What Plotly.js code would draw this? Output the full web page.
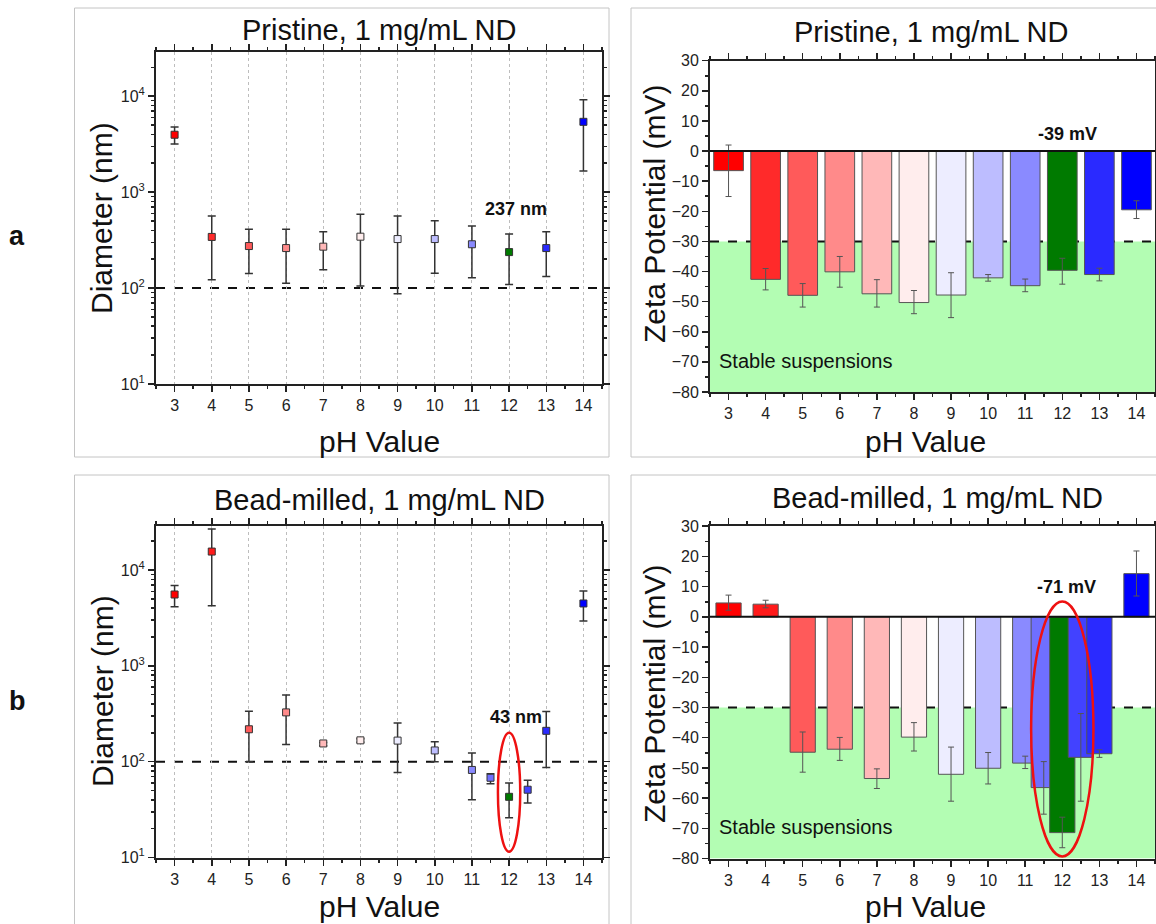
<!DOCTYPE html>
<html><head><meta charset="utf-8">
<script src="https://cdn.plot.ly/plotly-3.0.1.min.js"></script>
<style>html,body{margin:0;padding:0;background:#fff}#chart{width:1156px;height:924px}</style>
</head><body><div id="chart"></div>
<script>
// ---- data ----
const phA = [3,4,5,6,7,8,9,10,11,12,13,14];
const colorsA = ['#ff0000','#ff2a2a','#ff5a5a','#ff8a8a','#ffb8b8','#ffeded','#ededff','#bdbdff','#8a8aff','#007a00','#2a2aff','#0000ff'];
const diamA    = [3960,341,274,261,270,343,324,324,286,237,261,5400];
const diamA_hi = [4760,563,410,410,387,588,563,504,443,366,387,9160];
const diamA_lo = [3165,122,142,112,155,105,87,143,128,109,132,1663];
const zetaA    = [-6.5,-42.6,-47.9,-40.1,-47.4,-50.3,-47.8,-42.1,-44.7,-39.6,-41.0,-19.5];
const zetaA_hi = [2.0,-39.0,-44.0,-35.0,-42.7,-46.3,-40.4,-41.0,-42.5,-35.6,-38.9,-16.5];
const zetaA_lo = [-15.1,-46.1,-51.8,-45.2,-51.8,-54.0,-55.3,-43.2,-46.7,-44.2,-43.1,-22.4];

const phB = [3,4,5,6,7,8,9,10,11,11.5,12,12.5,13,14];
const colorsB = ['#ff0000','#ff1a1a','#ff5a5a','#ff8a8a','#ffb8b8','#ffeded','#ededff','#bdbdff','#8a8aff','#6f6fff','#007a00','#4242ff','#2a2aff','#0000ff'];
const diamB    = [5560,15600,218,327,155,167,166,131,82,68,43,51,210,4480];
const diamB_hi = [6920,26900,337,497,159,174,254,161,123,75,60,64,335,6030];
const diamB_lo = [4130,4230,100,151,147,160,77,100,40,59,26,37,87,2944];
const zetaB    = [4.6,4.2,-44.8,-43.8,-53.5,-39.8,-52.1,-50.1,-48.4,-56.5,-71.4,-46.5,-45.3,14.3];
const zetaB_hi = [7.2,5.5,-38.1,-39.9,-50.3,-35.0,-43.1,-44.9,-46.1,-47.9,-66.3,-32.0,-44.0,21.8];
const zetaB_lo = [2.2,3.0,-51.4,-47.5,-56.8,-44.4,-61.0,-55.3,-50.2,-65.3,-76.4,-61.0,-46.5,6.9];

const logTickVals = [10,100,1000,10000];
const logTickText = ['10<sup>1</sup>','10<sup>2</sup>','10<sup>3</sup>','10<sup>4</sup>'];

const FONT = 'Liberation Sans, Arial, sans-serif';
const W = 1156, H = 924;
const px = x => x / W, py = y => 1 - y / H;

function up(hi, v){ return hi.map((h,i)=>h - v[i]); }
function dn(lo, v){ return v.map((x,i)=>x - lo[i]); }

function diamTrace(x, y, hi, lo, colors, xa, ya){
  return {type:'scatter', mode:'markers', x:x, y:y, xaxis:xa, yaxis:ya,
    marker:{symbol:'square', size:7, color:colors, line:{color:'#333', width:1}},
    error_y:{type:'data', symmetric:false, array:up(hi,y), arrayminus:dn(lo,y), color:'#333', thickness:1.5, width:4},
    hoverinfo:'x+y', showlegend:false};
}
function zetaTrace(x, y, hi, lo, colors, w, xa, ya){
  return {type:'bar', x:x, y:y, xaxis:xa, yaxis:ya, width:w,
    marker:{color:colors, line:{color:'#555', width:1}},
    error_y:{type:'data', symmetric:false, array:up(hi,y), arrayminus:dn(lo,y), color:'#555', thickness:1, width:3},
    showlegend:false};
}

const data = [
  diamTrace(phA, diamA, diamA_hi, diamA_lo, colorsA, 'x', 'y'),
  zetaTrace(phA, zetaA, zetaA_hi, zetaA_lo, colorsA, 0.8, 'x2', 'y2'),
  diamTrace(phB, diamB, diamB_hi, diamB_lo, colorsB, 'x3', 'y3'),
  zetaTrace(phB, zetaB, zetaB_hi, zetaB_lo, colorsB, 0.68, 'x4', 'y4')
];

function xAxis(dom, anchor, grid){
  return {domain:dom, anchor:anchor, range:[2.5,14.5], tickmode:'linear', tick0:3, dtick:1,
    ticks:'outside', ticklen:6, tickwidth:1.5, tickcolor:'#222',
    showline:true, linecolor:'#222', linewidth:2, mirror:'ticks', zeroline:false,
    showgrid:grid, gridcolor:'#bdbdbd', griddash:'3px,3px', gridwidth:1,
    minor:{tick0:2.5, dtick:0.5, ticks:'outside', ticklen:3, tickcolor:'#222', showgrid:false},
    tickfont:{family:FONT, size:16, color:'#222'}};
}
function logAxis(dom, anchor){
  return {domain:dom, anchor:anchor, type:'log', range:[1,4.46], tickvals:logTickVals, ticktext:logTickText,
    ticks:'outside', ticklen:6, tickwidth:1.5, tickcolor:'#222',
    showline:true, linecolor:'#222', linewidth:2, mirror:'ticks', zeroline:false, showgrid:false,
    minor:{dtick:'D1', ticks:'outside', ticklen:3, tickcolor:'#222', showgrid:false},
    tickfont:{family:FONT, size:16, color:'#222'}};
}
function zAxis(dom, anchor){
  return {domain:dom, anchor:anchor, range:[-80,30], tickmode:'linear', tick0:0, dtick:10,
    ticks:'outside', ticklen:6, tickwidth:1.5, tickcolor:'#222',
    showline:true, linecolor:'#222', linewidth:2, mirror:'ticks', zeroline:false, showgrid:false,
    minor:{tick0:0, dtick:5, ticks:'outside', ticklen:3, tickcolor:'#222', showgrid:false},
    tickfont:{family:FONT, size:16, color:'#222'}};
}

const xL = [px(156), px(602)], xR = [px(710), px(1155)];
const layout = {
  width:W, height:H, margin:{l:0,r:0,t:0,b:0}, paper_bgcolor:'#fff', plot_bgcolor:'#fff',
  font:{family:FONT, color:'#111'}, showlegend:false, barmode:'overlay',
  xaxis: xAxis(xL, 'y', true),
  yaxis: logAxis([py(384), py(52)], 'x'),
  xaxis2: xAxis(xR, 'y2', false),
  yaxis2: zAxis([py(392), py(60.7)], 'x2'),
  xaxis3: xAxis(xL, 'y3', true),
  yaxis3: logAxis([py(857.5), py(526)], 'x3'),
  xaxis4: xAxis(xR, 'y4', false),
  yaxis4: zAxis([py(858.6), py(526.2)], 'x4'),
  shapes: [
    // panel borders
    {type:'rect', xref:'paper', yref:'paper', x0:px(74.5), x1:px(609), y0:py(457), y1:py(8), line:{color:'#c4c4c4', width:1}, layer:'below'},
    {type:'rect', xref:'paper', yref:'paper', x0:px(631), x1:px(1170), y0:py(457), y1:py(8), line:{color:'#c4c4c4', width:1}, layer:'below'},
    {type:'rect', xref:'paper', yref:'paper', x0:px(74.5), x1:px(609), y0:py(940), y1:py(475), line:{color:'#c4c4c4', width:1}, layer:'below'},
    {type:'rect', xref:'paper', yref:'paper', x0:px(631), x1:px(1170), y0:py(940), y1:py(475), line:{color:'#c4c4c4', width:1}, layer:'below'},
    // stable zones
    {type:'rect', xref:'x2 domain', yref:'y2', x0:0, x1:1, y0:-80, y1:-30, fillcolor:'#b3fdb3', line:{width:0}, layer:'below'},
    {type:'line', xref:'x2 domain', yref:'y2', x0:0, x1:1, y0:-30, y1:-30, line:{color:'#111', width:2, dash:'dash'}, layer:'below'},
    {type:'line', xref:'x2 domain', yref:'y2', x0:0, x1:1, y0:0, y1:0, line:{color:'#111', width:2}, layer:'above'},
    {type:'rect', xref:'x4 domain', yref:'y4', x0:0, x1:1, y0:-80, y1:-30, fillcolor:'#b3fdb3', line:{width:0}, layer:'below'},
    {type:'line', xref:'x4 domain', yref:'y4', x0:0, x1:1, y0:-30, y1:-30, line:{color:'#111', width:2, dash:'dash'}, layer:'below'},
    {type:'line', xref:'x4 domain', yref:'y4', x0:0, x1:1, y0:0, y1:0, line:{color:'#111', width:2}, layer:'above'},
    // 100 nm lines
    {type:'line', xref:'x domain', yref:'y', x0:0, x1:1, y0:100, y1:100, line:{color:'#111', width:2, dash:'dash'}, layer:'below'},
    {type:'line', xref:'x3 domain', yref:'y3', x0:0, x1:1, y0:100, y1:100, line:{color:'#111', width:2, dash:'dash'}, layer:'below'},
    // ellipses
    {type:'circle', xref:'x3', yref:'y3', x0:11.7, x1:12.3, y0:11.5, y1:200, line:{color:'#ee1111', width:2.5}, layer:'above'},
    {type:'circle', xref:'x4', yref:'y4', x0:11.16, x1:12.84, y0:-79.3, y1:5.1, line:{color:'#ee1111', width:2.5}, layer:'above'}
  ],
  annotations: [
    {text:'Pristine, 1 mg/mL ND', x:px(379), y:py(30), xref:'paper', yref:'paper', showarrow:false, xanchor:'center', yanchor:'middle', font:{size:29, color:'#111'}},
    {text:'Pristine, 1 mg/mL ND', x:px(931), y:py(32), xref:'paper', yref:'paper', showarrow:false, xanchor:'center', yanchor:'middle', font:{size:29, color:'#111'}},
    {text:'Bead-milled, 1 mg/mL ND', x:px(379), y:py(500), xref:'paper', yref:'paper', showarrow:false, xanchor:'center', yanchor:'middle', font:{size:29, color:'#111'}},
    {text:'Bead-milled, 1 mg/mL ND', x:px(937), y:py(498), xref:'paper', yref:'paper', showarrow:false, xanchor:'center', yanchor:'middle', font:{size:29, color:'#111'}},
    {text:'pH Value', x:px(379), y:py(441), xref:'paper', yref:'paper', showarrow:false, xanchor:'center', yanchor:'middle', font:{size:30, color:'#111'}},
    {text:'pH Value', x:px(926), y:py(441), xref:'paper', yref:'paper', showarrow:false, xanchor:'center', yanchor:'middle', font:{size:30, color:'#111'}},
    {text:'pH Value', x:px(379), y:py(906), xref:'paper', yref:'paper', showarrow:false, xanchor:'center', yanchor:'middle', font:{size:30, color:'#111'}},
    {text:'pH Value', x:px(926), y:py(906), xref:'paper', yref:'paper', showarrow:false, xanchor:'center', yanchor:'middle', font:{size:30, color:'#111'}},
    {text:'Diameter (nm)', x:px(102), y:py(218), xref:'paper', yref:'paper', showarrow:false, textangle:-90, xanchor:'center', yanchor:'middle', font:{size:30, color:'#111'}},
    {text:'Diameter (nm)', x:px(102), y:py(691), xref:'paper', yref:'paper', showarrow:false, textangle:-90, xanchor:'center', yanchor:'middle', font:{size:30, color:'#111'}},
    {text:'Zeta Potential (mV)', x:px(654), y:py(214), xref:'paper', yref:'paper', showarrow:false, textangle:-90, xanchor:'center', yanchor:'middle', font:{size:30, color:'#111'}},
    {text:'Zeta Potential (mV)', x:px(654), y:py(694), xref:'paper', yref:'paper', showarrow:false, textangle:-90, xanchor:'center', yanchor:'middle', font:{size:30, color:'#111'}},
    {text:'<b>a</b>', x:px(17), y:py(236), xref:'paper', yref:'paper', showarrow:false, xanchor:'center', yanchor:'middle', font:{size:27, color:'#111'}},
    {text:'<b>b</b>', x:px(17), y:py(701), xref:'paper', yref:'paper', showarrow:false, xanchor:'center', yanchor:'middle', font:{size:27, color:'#111'}},
    {text:'<b>237 nm</b>', x:px(516), y:py(209), xref:'paper', yref:'paper', showarrow:false, xanchor:'center', yanchor:'middle', font:{size:18, color:'#111'}},
    {text:'<b>43 nm</b>', x:px(516), y:py(717), xref:'paper', yref:'paper', showarrow:false, xanchor:'center', yanchor:'middle', font:{size:18, color:'#111'}},
    {text:'<b>-39 mV</b>', x:px(1067), y:py(134), xref:'paper', yref:'paper', showarrow:false, xanchor:'center', yanchor:'middle', font:{size:18, color:'#111'}},
    {text:'<b>-71 mV</b>', x:px(1066), y:py(587), xref:'paper', yref:'paper', showarrow:false, xanchor:'center', yanchor:'middle', font:{size:18, color:'#111'}},
    {text:'Stable suspensions', x:px(717), y:py(361), xref:'paper', yref:'paper', showarrow:false, xanchor:'left', yanchor:'middle', font:{size:20, color:'#111'}},
    {text:'Stable suspensions', x:px(717), y:py(827), xref:'paper', yref:'paper', showarrow:false, xanchor:'left', yanchor:'middle', font:{size:20, color:'#111'}}
  ]
};

Plotly.newPlot('chart', data, layout, {displayModeBar:false, staticPlot:true});
</script>
</body></html>
